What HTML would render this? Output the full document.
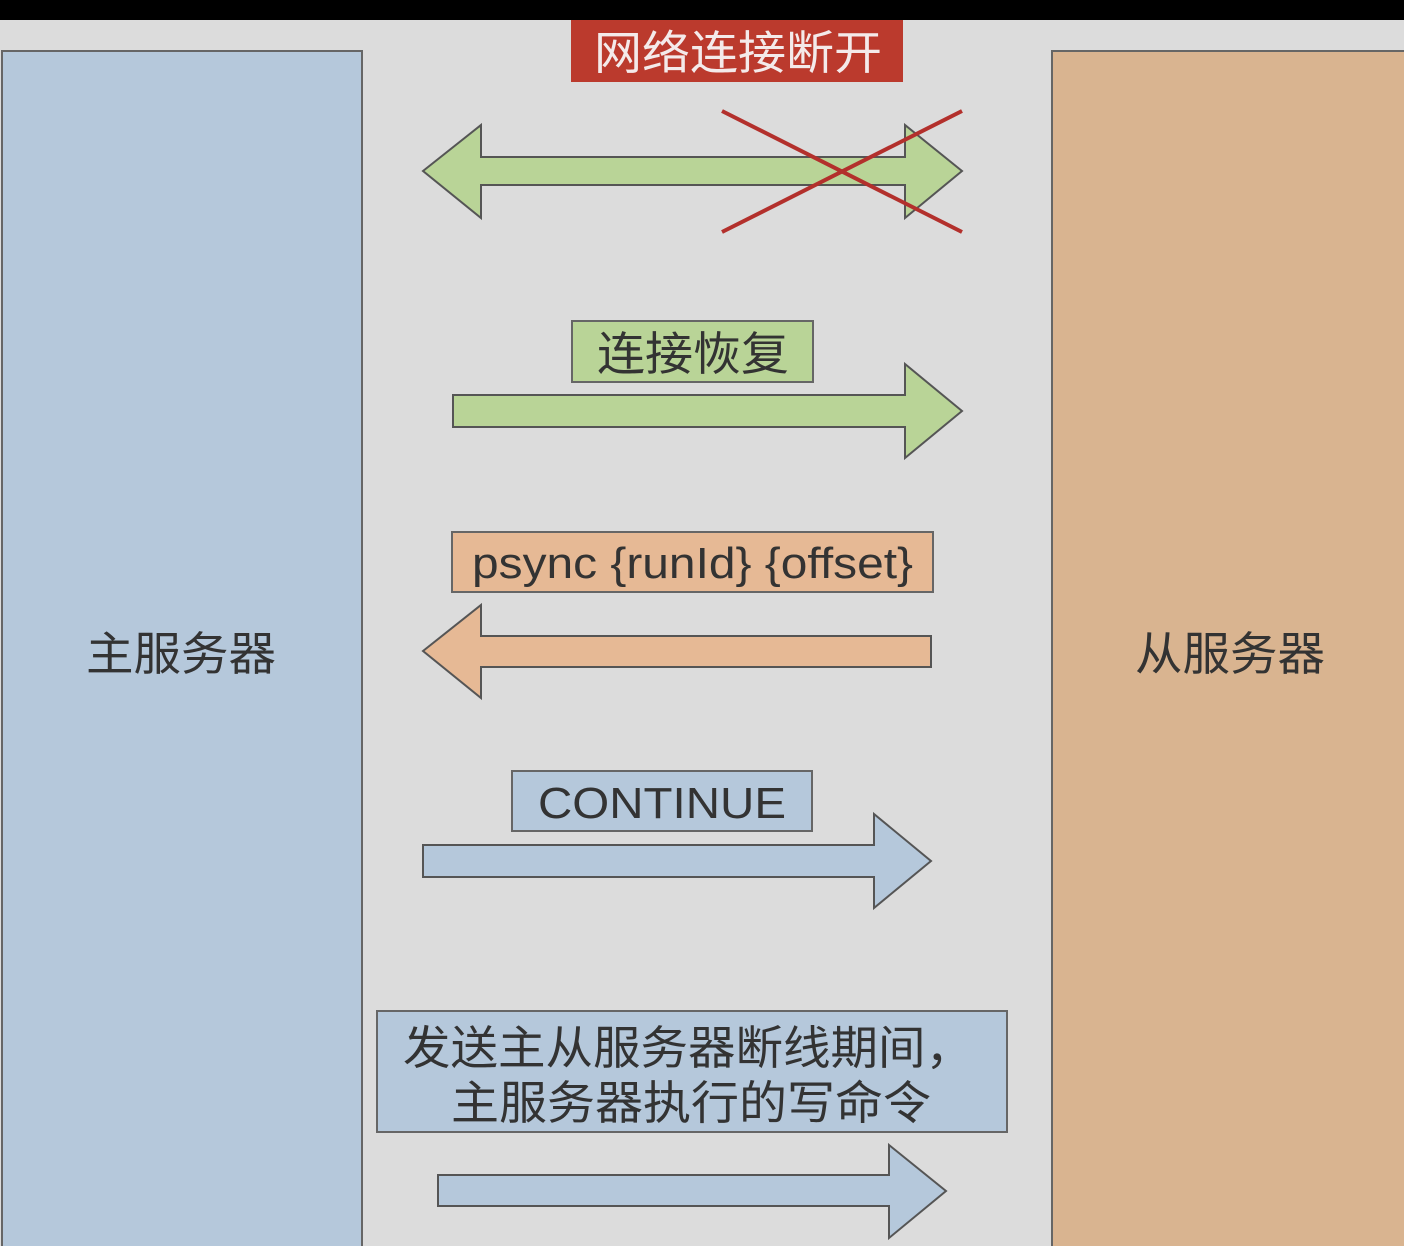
<!DOCTYPE html>
<html><head><meta charset="utf-8"><style>
html,body{margin:0;padding:0;width:1404px;height:1246px;overflow:hidden;background:#dcdcdc}
svg{display:block}
text{font-family:"Liberation Sans","Noto Sans CJK SC",sans-serif}
</style></head><body>
<svg width="1404" height="1246" viewBox="0 0 1404 1246" xmlns="http://www.w3.org/2000/svg">
<rect x="0" y="0" width="1404" height="1246" fill="#dcdcdc"/>
<rect x="0" y="0" width="1404" height="20" fill="#000"/>
<rect x="2" y="51" width="360" height="1200" fill="#b5c8db" stroke="#666" stroke-width="2"/>
<rect x="1052" y="51" width="360" height="1200" fill="#d9b490" stroke="#666" stroke-width="2"/>
<text x="86" y="670" font-size="46" textLength="190" lengthAdjust="spacingAndGlyphs" fill="#333">主服务器</text>
<text x="1135" y="670" font-size="46" textLength="190" lengthAdjust="spacingAndGlyphs" fill="#333">从服务器</text>

<rect x="571" y="20" width="332" height="62" fill="#bb3a2d"/>
<text x="594" y="69" font-size="46" textLength="288" lengthAdjust="spacingAndGlyphs" fill="#f4eaea">网络连接断开</text>

<polygon points="423,171 481,125 481,157 905,157 905,125 962,171 905,218 905,185 481,185 481,218" fill="#b9d497" stroke="#555" stroke-width="2"/>
<line x1="722" y1="111" x2="962" y2="232" stroke="#b3302c" stroke-width="4"/>
<line x1="722" y1="232" x2="962" y2="111" stroke="#b3302c" stroke-width="4"/>

<rect x="572" y="321" width="241" height="61" fill="#b9d497" stroke="#666" stroke-width="2"/>
<text x="597" y="370" font-size="46" textLength="192" lengthAdjust="spacingAndGlyphs" fill="#333">连接恢复</text>
<polygon points="453,395 905,395 905,364 962,411 905,458 905,427 453,427" fill="#b9d497" stroke="#555" stroke-width="2"/>

<rect x="452" y="532" width="481" height="60" fill="#e6b995" stroke="#666" stroke-width="2"/>
<text x="472" y="578" font-size="44" textLength="441" lengthAdjust="spacingAndGlyphs" fill="#333">psync {runId} {offset}</text>
<polygon points="423,651 481,605 481,636 931,636 931,667 481,667 481,698" fill="#e6b995" stroke="#555" stroke-width="2"/>

<rect x="512" y="771" width="300" height="60" fill="#b5c8db" stroke="#666" stroke-width="2"/>
<text x="538" y="818" font-size="44" textLength="248" lengthAdjust="spacingAndGlyphs" fill="#333">CONTINUE</text>
<polygon points="423,845 874,845 874,814 931,861 874,908 874,877 423,877" fill="#b5c8db" stroke="#555" stroke-width="2"/>

<rect x="377" y="1011" width="630" height="121" fill="#b5c8db" stroke="#666" stroke-width="2"/>
<text x="403" y="1064" font-size="46" textLength="570" lengthAdjust="spacingAndGlyphs" fill="#333">发送主从服务器断线期间，</text>
<text x="451" y="1119" font-size="46" textLength="480" lengthAdjust="spacingAndGlyphs" fill="#333">主服务器执行的写命令</text>
<polygon points="438,1175 889,1175 889,1145 946,1191 889,1238 889,1206 438,1206" fill="#b5c8db" stroke="#555" stroke-width="2"/>
</svg>
</body></html>
